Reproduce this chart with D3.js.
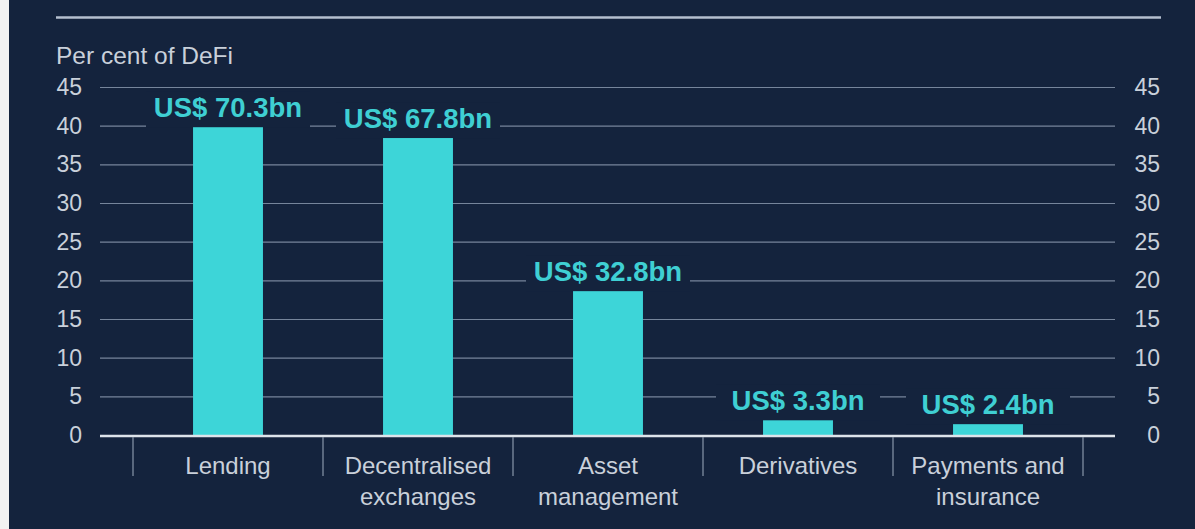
<!DOCTYPE html>
<html>
<head>
<meta charset="utf-8">
<script src="https://cdn.jsdelivr.net/npm/d3@7"></script>
<style>
  body { margin: 0; background: #14233d; }
  svg { display: block; font-family: "Liberation Sans", Arial, sans-serif; }
</style>
</head>
<body>
<div class="vis-barchart"></div>
<script>
// chart values
const categories = ['Lending', 'Decentralised exchanges', 'Asset management', 'Derivatives', 'Payments and insurance'];
const categoryLines = [['Lending'], ['Decentralised', 'exchanges'], ['Asset', 'management'], ['Derivatives'], ['Payments and', 'insurance']];
const shares = [39.8, 38.4, 18.6, 1.9, 1.4];
const valueLabels = ['US$ 70.3bn', 'US$ 67.8bn', 'US$ 32.8bn', 'US$ 3.3bn', 'US$ 2.4bn'];
const yTicks = [0, 5, 10, 15, 20, 25, 30, 35, 40, 45];
const yTitle = 'Per cent of DeFi';

const draw = () => {
  const width = 1195;
  const height = 529;
  const grey = '#c9d0da';
  const cyan = '#3dd5d8';

  const svg = d3
    .select('.vis-barchart')
    .append('svg')
    .attr('width', width)
    .attr('height', height);

  // light strip on the left edge
  svg.append('rect')
    .attr('width', 9).attr('height', height)
    .attr('fill', '#f2f2f2');

  // top rule
  svg.append('line')
    .attr('x1', 56).attr('x2', 1161)
    .attr('y1', 17.5).attr('y2', 17.5)
    .attr('stroke', '#b4bfcf')
    .attr('stroke-width', 2.5);

  svg.append('text')
    .attr('x', 56).attr('y', 64)
    .attr('fill', grey)
    .attr('font-size', 24.5)
    .text(yTitle);

  const data = categories.map((c, i) => ({
    name: c, lines: categoryLines[i], share: shares[i], label: valueLabels[i]
  }));

  const x = d3
    .scaleBand()
    .domain(categories)
    .range([133, 1083])
    .paddingInner(0.632)
    .paddingOuter(0.316);

  const y = d3
    .scaleLinear()
    .domain([0, 45])
    .range([435, 87]);

  const plotLeft = 100;
  const plotRight = 1115;

  // gridlines
  svg.append('g')
    .selectAll('line')
    .data(yTicks.filter((t) => t !== 0))
    .join('line')
    .attr('x1', plotLeft).attr('x2', plotRight)
    .attr('y1', (d) => y(d) + 0.5).attr('y2', (d) => y(d) + 0.5)
    .attr('stroke', '#76859b')
    .attr('stroke-width', 1.2);

  // left axis
  const left = svg.append('g')
    .attr('transform', `translate(${plotLeft},0)`)
    .call(d3.axisLeft(y).tickValues(yTicks).tickSize(0).tickPadding(18));
  left.select('.domain').remove();
  left.selectAll('text')
    .attr('fill', grey)
    .attr('font-size', 23)
    .attr('font-family', '"Liberation Sans", Arial, sans-serif');

  // right axis (labels right aligned)
  const right = svg.append('g')
    .attr('transform', `translate(${plotRight},0)`)
    .call(d3.axisRight(y).tickValues(yTicks).tickSize(0));
  right.select('.domain').remove();
  right.selectAll('text')
    .attr('x', 45)
    .attr('text-anchor', 'end')
    .attr('fill', grey)
    .attr('font-size', 23)
    .attr('font-family', '"Liberation Sans", Arial, sans-serif');

  const center = (d) => x(d.name) + x.bandwidth() / 2;

  // label backgrounds hide gridlines
  svg.append('g')
    .selectAll('rect')
    .data(data)
    .join('rect')
    .attr('x', (d) => center(d) - 82)
    .attr('y', (d) => y(d.share) - 36)
    .attr('width', 164)
    .attr('height', 36)
    .attr('fill', '#14233d');

  // bars
  svg.append('g')
    .selectAll('rect')
    .data(data)
    .join('rect')
    .attr('x', (d) => x(d.name))
    .attr('y', (d) => y(d.share))
    .attr('width', x.bandwidth())
    .attr('height', (d) => y(0) - y(d.share))
    .attr('fill', cyan);

  // value labels
  svg.append('g')
    .selectAll('text')
    .data(data)
    .join('text')
    .attr('x', center)
    .attr('y', (d) => y(d.share) - 10)
    .attr('text-anchor', 'middle')
    .attr('font-weight', 'bold')
    .attr('font-size', 27.5)
    .attr('fill', '#3fcfd3')
    .text((d) => d.label);

  // zero line
  svg.append('line')
    .attr('x1', plotLeft).attr('x2', plotRight)
    .attr('y1', y(0) + 1).attr('y2', y(0) + 1)
    .attr('stroke', '#dde3ea')
    .attr('stroke-width', 2.5);

  // category separators
  const step = x.step();
  const edges = categories.map((c) => x(c) - step * 0.316).concat([x(categories[4]) - step * 0.316 + step]);
  svg.append('g')
    .selectAll('line')
    .data(edges)
    .join('line')
    .attr('x1', (d) => d).attr('x2', (d) => d)
    .attr('y1', 437).attr('y2', 476)
    .attr('stroke', '#8896aa')
    .attr('stroke-width', 1.2);

  // category labels
  const bottom = svg.append('g')
    .attr('transform', `translate(0,${y(0)})`)
    .call(d3.axisBottom(x).tickSize(0).tickFormat(''));
  bottom.select('.domain').remove();
  bottom.selectAll('.tick').each(function (name) {
    const d = data.find((e) => e.name === name);
    const t = d3.select(this).append('text')
      .attr('fill', grey)
      .attr('font-size', 24)
      .attr('text-anchor', 'middle')
      .attr('font-family', '"Liberation Sans", Arial, sans-serif');
    d.lines.forEach((ln, i) => {
      t.append('tspan').attr('x', 0).attr('y', 39 + i * 31).text(ln);
    });
  });
};

draw();
</script>
</body>
</html>
